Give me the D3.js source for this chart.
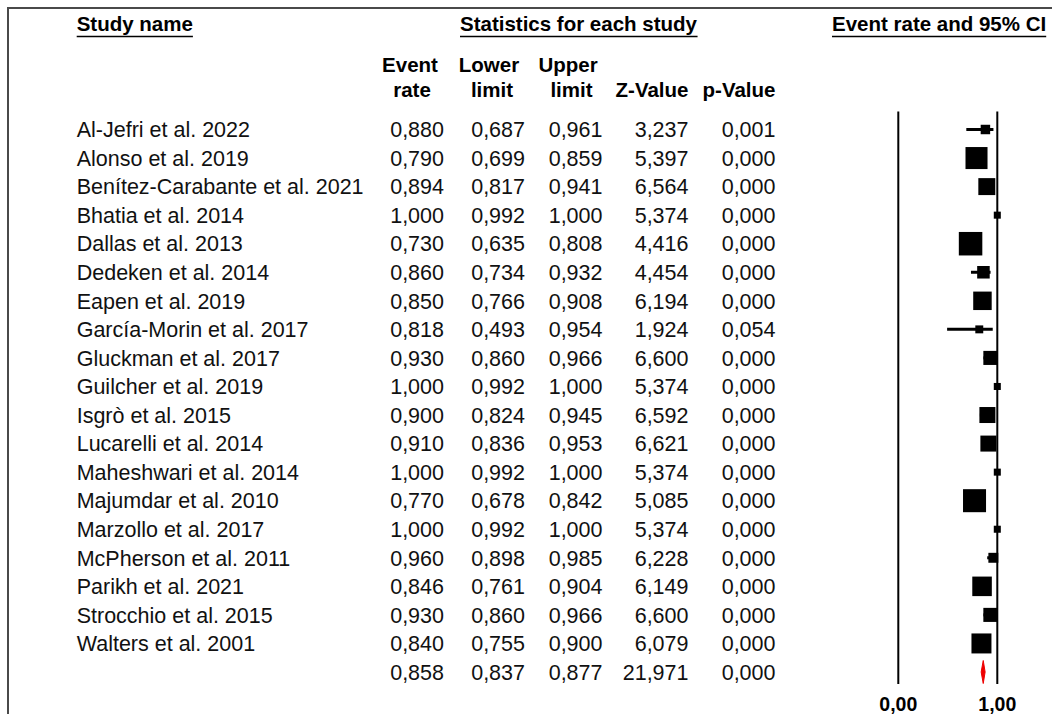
<!DOCTYPE html>
<html>
<head>
<meta charset="utf-8">
<script src="https://cdn.jsdelivr.net/npm/d3@7"></script>
<style>
  html, body { margin: 0; padding: 0; background: #fff; }
  svg { display: block; font-family: "Liberation Sans", Arial, sans-serif; }
</style>
</head>
<body>
<svg id="chart" width="1052" height="714"></svg>
<script>
// Study-level proportions with 95% confidence intervals
const studies = [
  "Al-Jefri et al. 2022", "Alonso et al. 2019", "Benítez-Carabante et al. 2021",
  "Bhatia et al. 2014", "Dallas et al. 2013", "Dedeken et al. 2014",
  "Eapen et al. 2019", "García-Morin et al. 2017", "Gluckman et al. 2017",
  "Guilcher et al. 2019", "Isgrò et al. 2015", "Lucarelli et al. 2014",
  "Maheshwari et al. 2014", "Majumdar et al. 2010", "Marzollo et al. 2017",
  "McPherson et al. 2011", "Parikh et al. 2021", "Strocchio et al. 2015",
  "Walters et al. 2001"
];
const eventRate  = [0.880, 0.790, 0.894, 1.000, 0.730, 0.860, 0.850, 0.818, 0.930, 1.000, 0.900, 0.910, 1.000, 0.770, 1.000, 0.960, 0.846, 0.930, 0.840];
const lowerLimit = [0.687, 0.699, 0.817, 0.992, 0.635, 0.734, 0.766, 0.493, 0.860, 0.992, 0.824, 0.836, 0.992, 0.678, 0.992, 0.898, 0.761, 0.860, 0.755];
const upperLimit = [0.961, 0.859, 0.941, 1.000, 0.808, 0.932, 0.908, 0.954, 0.966, 1.000, 0.945, 0.953, 1.000, 0.842, 1.000, 0.985, 0.904, 0.966, 0.900];
const zValue     = [3.237, 5.397, 6.564, 5.374, 4.416, 4.454, 6.194, 1.924, 6.600, 5.374, 6.592, 6.621, 5.374, 5.085, 5.374, 6.228, 6.149, 6.600, 6.079];
const pValue     = [0.001, 0.000, 0.000, 0.000, 0.000, 0.000, 0.000, 0.054, 0.000, 0.000, 0.000, 0.000, 0.000, 0.000, 0.000, 0.000, 0.000, 0.000, 0.000];
// relative weight (%) of each study, sets the marker area
const relWeight  = [2.0, 10.8, 6.4, 1.1, 12.3, 3.5, 7.6, 1.4, 4.4, 1.1, 5.7, 5.7, 1.1, 11.8, 1.1, 2.2, 8.5, 4.4, 8.9];

// Pooled estimate
const pooledRate  = [0.858];
const pooledLower = [0.837];
const pooledUpper = [0.877];
const pooledZ     = [21.971];
const pooledP     = [0.000];

const axisTicks = [0, 1];

const locale = d3.formatLocale({ decimal: ",", thousands: ".", grouping: [3], currency: ["", ""] });
const f3 = locale.format(".3f");
const f2 = locale.format(".2f");

const svg = d3.select("#chart");

// frame
svg.append("path")
  .attr("d", "M8,714V8H1052")
  .attr("fill", "none")
  .attr("stroke", "#4a4a4a")
  .attr("stroke-width", 2);

const nRows = studies.length + 1;
const y = d3.scalePoint().domain(d3.range(nRows)).range([129.5, 672]);
const x = d3.scaleLinear().domain([0, 1]).range([898.3, 997.3]);
const side = d3.scaleSqrt().domain([0, d3.max(relWeight)]).range([0, 23.5]);

// ---- headers ----
const headFont = 20.5;
function underlinedTitle(text, x0, baseline) {
  const t = svg.append("text")
    .attr("x", x0).attr("y", baseline)
    .attr("font-size", headFont).attr("font-weight", "bold")
    .attr("fill", "#000")
    .text(text);
  const bb = t.node().getBBox();
  svg.append("line")
    .attr("x1", bb.x).attr("x2", bb.x + bb.width)
    .attr("y1", baseline + 5.5).attr("y2", baseline + 5.5)
    .attr("stroke", "#000").attr("stroke-width", 1.6);
}
underlinedTitle("Study name", 76.7, 31);
underlinedTitle("Statistics for each study", 460, 31);
underlinedTitle("Event rate and 95% CI", 832, 31);

const colHeads = [
  { l1: "Event", l2: "rate", x1: 410, x2: 412, anchor: "middle" },
  { l1: "Lower", l2: "limit", x1: 489, x2: 492, anchor: "middle" },
  { l1: "Upper", l2: "limit", x1: 568, x2: 571.5, anchor: "middle" },
  { l1: null, l2: "Z-Value", x1: 0, x2: 688.5, anchor: "end" },
  { l1: null, l2: "p-Value", x1: 0, x2: 775.5, anchor: "end" }
];
colHeads.forEach(h => {
  if (h.l1) svg.append("text").attr("x", h.x1).attr("y", 72)
    .attr("text-anchor", h.anchor).attr("font-size", headFont).attr("font-weight", "bold").text(h.l1);
  svg.append("text").attr("x", h.x2).attr("y", 97)
    .attr("text-anchor", h.anchor).attr("font-size", headFont).attr("font-weight", "bold").text(h.l2);
});

// ---- table body ----
const bodyFont = 21.5;
const colRight = [444, 525, 602.5, 688.5, 775.5];
const rows = studies.map((s, i) => ({
  name: s, vals: [eventRate[i], lowerLimit[i], upperLimit[i], zValue[i], pValue[i]], i
}));
rows.push({ name: "", vals: [pooledRate[0], pooledLower[0], pooledUpper[0], pooledZ[0], pooledP[0]], i: studies.length });

const rowG = svg.append("g").selectAll("g").data(rows).join("g")
  .attr("transform", d => `translate(0,${y(d.i)})`);
rowG.append("text")
  .attr("x", 76.7).attr("dy", "0.36em")
  .attr("font-size", bodyFont).attr("fill", "#111")
  .text(d => d.name);
rowG.selectAll("text.v").data(d => d.vals).join("text")
  .attr("class", "v")
  .attr("x", (d, j) => colRight[j]).attr("dy", "0.36em")
  .attr("text-anchor", "end")
  .attr("font-size", bodyFont).attr("fill", "#111")
  .text(d => f3(d));

// ---- forest plot ----
const plot = svg.append("g");
plot.selectAll("line.ref").data(axisTicks).join("line")
  .attr("class", "ref")
  .attr("x1", d => x(d)).attr("x2", d => x(d))
  .attr("y1", 111.5).attr("y2", 684)
  .attr("stroke", "#000").attr("stroke-width", 2);

plot.selectAll("text.tick").data(axisTicks).join("text")
  .attr("class", "tick")
  .attr("x", d => x(d)).attr("y", 711)
  .attr("text-anchor", "middle")
  .attr("font-size", 19.5).attr("font-weight", "bold")
  .text(d => f2(d));

const st = plot.append("g").selectAll("g").data(studies.map((s, i) => i)).join("g");
st.append("line")
  .attr("x1", i => x(lowerLimit[i])).attr("x2", i => x(upperLimit[i]))
  .attr("y1", i => y(i)).attr("y2", i => y(i))
  .attr("stroke", "#000").attr("stroke-width", 3);
st.append("rect")
  .attr("x", i => x(eventRate[i]) - Math.max(side(relWeight[i]), 6.5) / 2)
  .attr("y", i => y(i) - Math.max(side(relWeight[i]), 6.5) / 2)
  .attr("width", i => Math.max(side(relWeight[i]), 6.5))
  .attr("height", i => Math.max(side(relWeight[i]), 6.5))
  .attr("fill", "#000");

// pooled diamond
const yc = y(studies.length);
plot.append("path")
  .attr("d", `M${x(pooledLower[0])},${yc}L${x(pooledRate[0])},${yc - 11.5}L${x(pooledUpper[0])},${yc}L${x(pooledRate[0])},${yc + 11.5}Z`)
  .attr("fill", "#ee0000").attr("stroke", "#ee0000").attr("stroke-width", 1);
</script>
</body>
</html>
